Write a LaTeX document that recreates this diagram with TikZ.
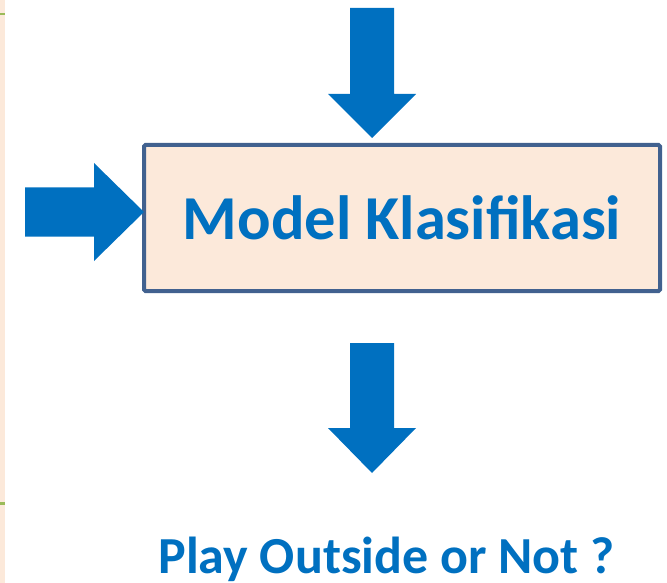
\documentclass[tikz,border=0pt]{standalone}
\usepackage{fontspec}
\setmainfont{Carlito}
\usepackage{xcolor}
\usetikzlibrary{positioning}

\definecolor{arrowblue}{HTML}{0070C0}
\definecolor{boxedge}{HTML}{41618F}
\definecolor{peach}{HTML}{FCE9DA}
\definecolor{leafgreen}{HTML}{9BBB59}

\begin{document}
\begin{tikzpicture}[
  x=1pt, y=-1pt,
  B/.style={draw=boxedge, line width=4pt, fill=#1, rounded corners=1.5pt,
            minimum width=516pt, minimum height=146pt, inner sep=0pt,
            font=\fontsize{62.5}{70}\selectfont\bfseries, text=arrowblue},
  blk/.style={fill=arrowblue},
]
\useasboundingbox (0,0) rectangle (667,583);

% strip of the box cut off at the left
\fill[peach] (0,0) rectangle (5,583);
\fill[leafgreen] (0,13) rectangle (5,15.5);
\fill[leafgreen] (0,502) rectangle (5,504.5);

\node[B=peach] (model) at (402,218) {Model Klasifikasi};

\node[anchor=base, text=arrowblue, font=\fontsize{52}{60}\selectfont\bfseries]
      (answer) at (386.5,573) {Play Outside or Not ?};

% input arrow from above
\coordinate (topTip) at ([yshift=5pt]model.north -| 372,0);
\fill[blk] (topTip) -- ++(-44,-44) -- ++(22,0) -- ++(0,-86)
    -- ++(44,0) -- ++(0,86) -- ++(22,0) -- cycle;

% input arrow from the left
\coordinate (leftTip) at ([xshift=2pt,yshift=6pt]model.west);
\fill[blk] (leftTip) -- ++(-50,-49) -- ++(0,24.5) -- ++(-69,0)
    -- ++(0,49) -- ++(69,0) -- ++(0,24.5) -- cycle;

% output arrow
\coordinate (outTip) at (372,473);
\fill[blk] (outTip) -- ++(-44,-45) -- ++(22,0) -- ++(0,-85)
    -- ++(44,0) -- ++(0,85) -- ++(22,0) -- cycle;

\end{tikzpicture}
\end{document}
